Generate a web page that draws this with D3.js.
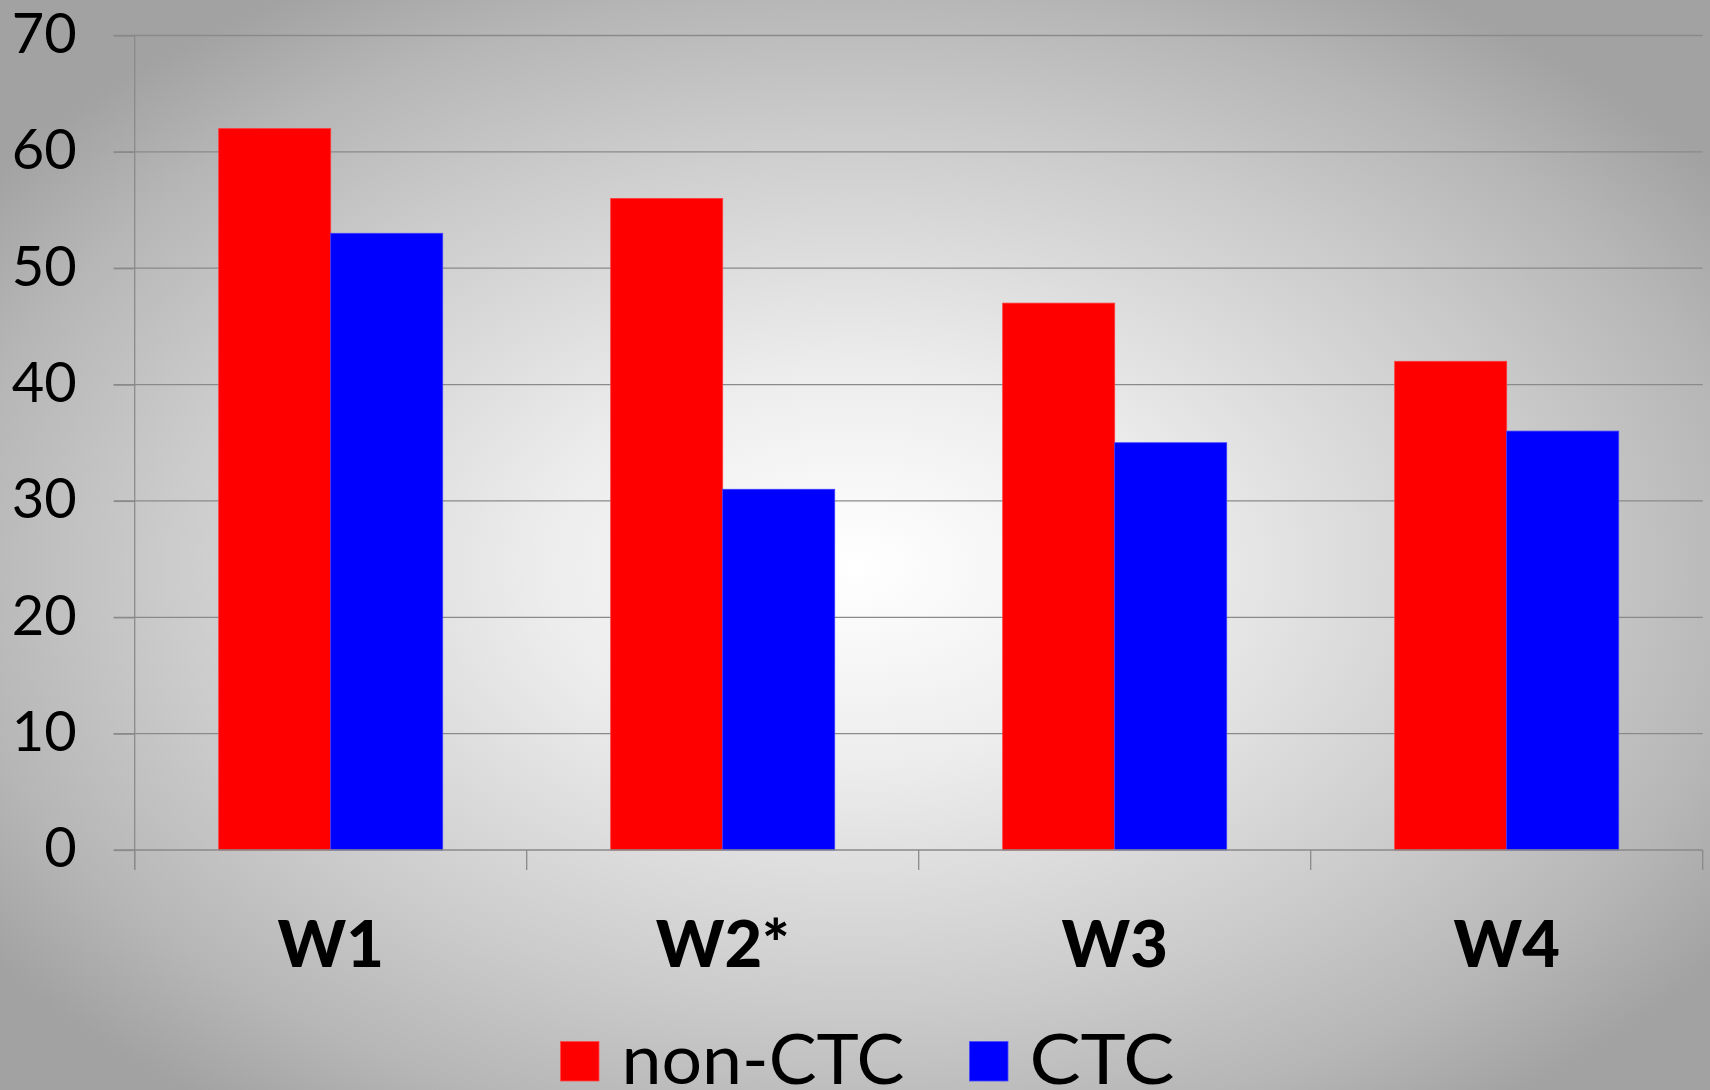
<!DOCTYPE html>
<html>
<head>
<meta charset="utf-8">
<script src="https://cdn.jsdelivr.net/npm/d3@7"></script>
<style>
  html, body { margin: 0; padding: 0; background: #c0c0c0; }
  svg { display: block; }
</style>
</head>
<body>
<svg id="chart" width="1710" height="1090"></svg>
<script>
const categories = ["W1", "W2*", "W3", "W4"];
const seriesNames = ["non-CTC", "CTC"];
const seriesColors = ["#ff0000", "#0000ff"];
const nonCTC = [62, 56, 47, 42];
const CTC = [53, 31, 35, 36];
const yTicks = [0, 10, 20, 30, 40, 50, 60, 70];

(function () {
const seriesValues = [nonCTC, CTC];
const W = 1710, H = 1090;
const mLeft = 134.7, mRight = 1702.7, mTop = 35.5, mBottom = 850;

const svg = d3.select("#chart");
const defs = svg.append("defs");
const grad = defs.append("radialGradient")
  .attr("id", "bg").attr("cx", 0.5).attr("cy", 0.52).attr("r", 0.62).attr("fx", 0.5).attr("fy", 0.52);
[[0, "#ffffff"], [0.3, "#ececec"], [0.65, "#cbcbcb"], [0.85, "#b6b6b6"], [1, "#a2a2a2"]]
  .forEach(([o, c]) => grad.append("stop").attr("offset", o).attr("stop-color", c));
svg.append("rect").attr("width", W).attr("height", H).attr("fill", "url(#bg)");

const x = d3.scaleBand().domain(categories).range([mLeft, mRight])
  .paddingInner(168 / 392).paddingOuter(84 / 392);
const xs = d3.scaleBand().domain(seriesNames).range([0, x.bandwidth()]);
const y = d3.scaleLinear().domain([0, 70]).range([mBottom, mTop]);

// gridlines
svg.append("g").selectAll("line").data(yTicks.filter(d => d > 0)).join("line")
  .attr("x1", mLeft - 21).attr("x2", mRight)
  .attr("y1", d => y(d)).attr("y2", d => y(d))
  .attr("stroke", "#8a8a8a").attr("stroke-width", 1.3);

// y axis
const yAxis = d3.axisLeft(y).tickValues(yTicks).tickSize(21).tickPadding(37).tickFormat(d3.format("d"));
const gy = svg.append("g").attr("transform", `translate(${mLeft},0)`).call(yAxis);
gy.select(".domain").attr("stroke", "#8a8a8a").attr("stroke-width", 1.3)
  .attr("d", `M0,${mTop}V${mBottom + 20}`);
gy.selectAll(".tick line").attr("stroke", "#8a8a8a").attr("stroke-width", 1.3);
gy.selectAll(".tick text")
  .attr("font-family", "Lato, 'Open Sans', sans-serif")
  .attr("font-size", 56).attr("fill", "#000").attr("dy", "0.3em");

// bars
const groups = svg.append("g").selectAll("g").data(seriesValues).join("g")
  .attr("fill", (d, i) => seriesColors[i]);
groups.selectAll("rect").data((vals, si) => vals.map((v, ci) => ({ v, ci, si }))).join("rect")
  .attr("x", d => x(categories[d.ci]) + xs(seriesNames[d.si]))
  .attr("width", xs.bandwidth())
  .attr("y", d => y(d.v))
  .attr("height", d => y(0) - y(d.v))
  .attr("stroke", (d) => d.si === 0 ? "#ff3a3a" : "#3a3aff")
  .attr("stroke-width", 0.8);

// x axis
const boundaries = d3.range(categories.length + 1).map(i => mLeft + i * x.step());
svg.append("line").attr("x1", mLeft - 21).attr("x2", mRight)
  .attr("y1", mBottom).attr("y2", mBottom).attr("stroke", "#8a8a8a").attr("stroke-width", 1.3);
svg.append("g").selectAll("line").data(boundaries).join("line")
  .attr("x1", d => d).attr("x2", d => d).attr("y1", mBottom).attr("y2", mBottom + 20)
  .attr("stroke", "#8a8a8a").attr("stroke-width", 1.3);

svg.append("g").selectAll("text").data(categories).join("text")
  .attr("x", d => x(d) + x.bandwidth() / 2)
  .attr("y", 967)
  .attr("text-anchor", "middle")
  .attr("font-family", "Lato, 'Open Sans', sans-serif")
  .attr("font-weight", 900)
  .attr("font-size", 65)
  .attr("fill", "#000")
  .text(d => d);

// legend
const legendItems = [
  { name: seriesNames[0], color: seriesColors[0], sx: 560.5, tx: 621.5, tw: 283 },
  { name: seriesNames[1], color: seriesColors[1], sx: 969.5, tx: 1029.5, tw: 145 }
];
const lg = svg.append("g");
lg.selectAll("rect").data(legendItems).join("rect")
  .attr("x", d => d.sx).attr("y", 1041.5).attr("width", 38.5).attr("height", 39.5)
  .attr("fill", d => d.color).attr("stroke", d => d.color === "#ff0000" ? "#ff4a4a" : "#4a4aff").attr("stroke-width", 0.8);
lg.selectAll("text").data(legendItems).join("text")
  .attr("x", d => d.tx).attr("y", 1083.5)
  .attr("font-family", "Lato, 'Open Sans', sans-serif")
  .attr("font-size", 70)
  .attr("fill", "#000")
  .attr("textLength", d => d.tw).attr("lengthAdjust", "spacingAndGlyphs")
  .text(d => d.name);
})();
</script>
</body>
</html>
